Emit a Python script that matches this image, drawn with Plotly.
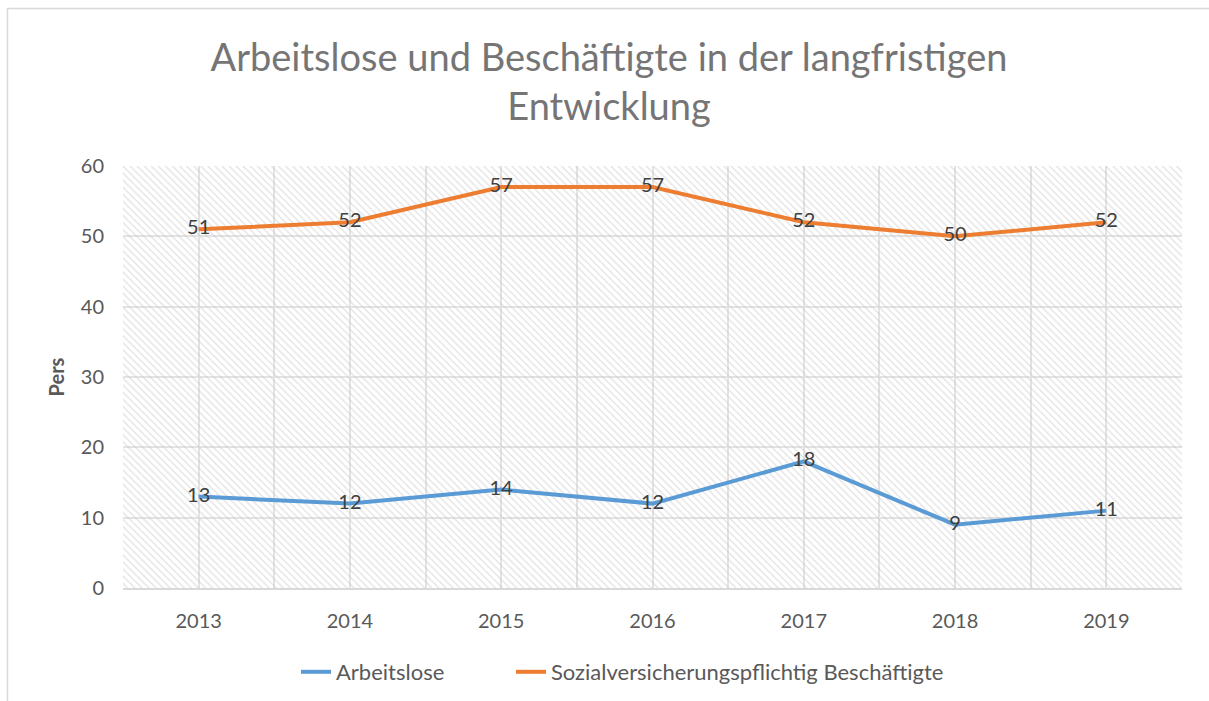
import plotly.graph_objects as go

years = ["2013", "2014", "2015", "2016", "2017", "2018", "2019"]
arbeitslose = [13, 12, 14, 12, 18, 9, 11]
beschaeftigte = [51, 52, 57, 57, 52, 50, 52]
y_ticks = [0, 10, 20, 30, 40, 50, 60]

W, H = 1209, 701
L, R, T, B = 123, 27, 166, 113
FONT = "Lato"

xs = list(range(len(years)))
xmin, xmax = -0.5, len(years) - 0.5
ymin, ymax = y_ticks[0], y_ticks[-1]

fig = go.Figure()

# hatched plot background
fig.add_trace(go.Scatter(
    x=[xmin, xmax, xmax, xmin, xmin], y=[ymin, ymin, ymax, ymax, ymin],
    mode="lines", fill="toself", line=dict(width=0), fillcolor="rgba(0,0,0,0)",
    fillpattern=dict(shape="\\", size=5, solidity=0.25, fgcolor="#c4c4c4",
                     bgcolor="rgba(0,0,0,0)", fillmode="overlay"),
    hoverinfo="skip", showlegend=False))

fig.add_trace(go.Scatter(
    x=xs, y=arbeitslose, mode="lines+text", name="Arbeitslose",
    line=dict(color="#5B9BD5", width=4), legend="legend",
    text=[str(v) for v in arbeitslose], textposition="middle center",
    textfont=dict(family=FONT, size=20, color="#404040")))
fig.add_trace(go.Scatter(
    x=xs, y=beschaeftigte, mode="lines+text",
    name="Sozialversicherungspflichtig Beschäftigte", legend="legend2",
    line=dict(color="#ED7D31", width=4),
    text=[str(v) for v in beschaeftigte], textposition="middle center",
    textfont=dict(family=FONT, size=20, color="#404040")))

pw = W - L - R
ph = H - T - B
def px_x(p):
    return (p - L) / pw
def px_y(p):
    return (H - B - p) / ph

# outer chart frame (top and left edges visible)
fig.add_shape(type="line", xref="paper", yref="paper",
              x0=px_x(7), x1=px_x(1215), y0=px_y(8.5), y1=px_y(8.5),
              line=dict(color="#d9d9d9", width=1.5))
fig.add_shape(type="line", xref="paper", yref="paper",
              x0=px_x(7.5), x1=px_x(7.5), y0=px_y(8), y1=px_y(710),
              line=dict(color="#d9d9d9", width=1.5))

legend_font = dict(family=FONT, size=22, color="#595959")
fig.update_layout(
    width=W, height=H,
    margin=dict(l=L, r=R, t=T, b=B, autoexpand=False),
    paper_bgcolor="white", plot_bgcolor="white",
    title=dict(text="Arbeitslose und Beschäftigte in der langfristigen<br>Entwicklung",
               x=609 / W, xanchor="center", y=1 - 71 / H, yanchor="middle",
               font=dict(family=FONT, size=38, color="#757575")),
    legend=dict(orientation="h", x=px_x(296), xanchor="left",
                y=px_y(672), yanchor="middle", font=legend_font),
    legend2=dict(orientation="h", x=px_x(511), xanchor="left",
                 y=px_y(672), yanchor="middle", font=legend_font),
    xaxis=dict(range=[xmin, xmax], tickvals=xs, ticktext=years,
               showgrid=True, gridcolor="#e3e3e3", gridwidth=1.5,
               minor=dict(tickvals=[i - 0.5 for i in range(len(years) + 1)],
                          showgrid=True, gridcolor="#e3e3e3", gridwidth=1.5, ticks=""),
               showline=True, linecolor="#d9d9d9", linewidth=1.5,
               ticks="", ticklabelstandoff=14, zeroline=False,
               tickfont=dict(family=FONT, size=20, color="#595959"), fixedrange=True),
    yaxis=dict(range=[ymin, ymax], tickvals=y_ticks,
               showgrid=True, gridcolor="#e3e3e3", gridwidth=1.5,
               zeroline=False, showline=False, ticks="", ticklabelstandoff=18,
               title=dict(text="<b>Pers</b>", standoff=10,
                          font=dict(family=FONT, size=20, color="#595959")),
               tickfont=dict(family=FONT, size=20, color="#595959"), fixedrange=True),
)

fig.write_html("out.html", config={"displayModeBar": False},
               post_script="document.body.style.margin='0';")
